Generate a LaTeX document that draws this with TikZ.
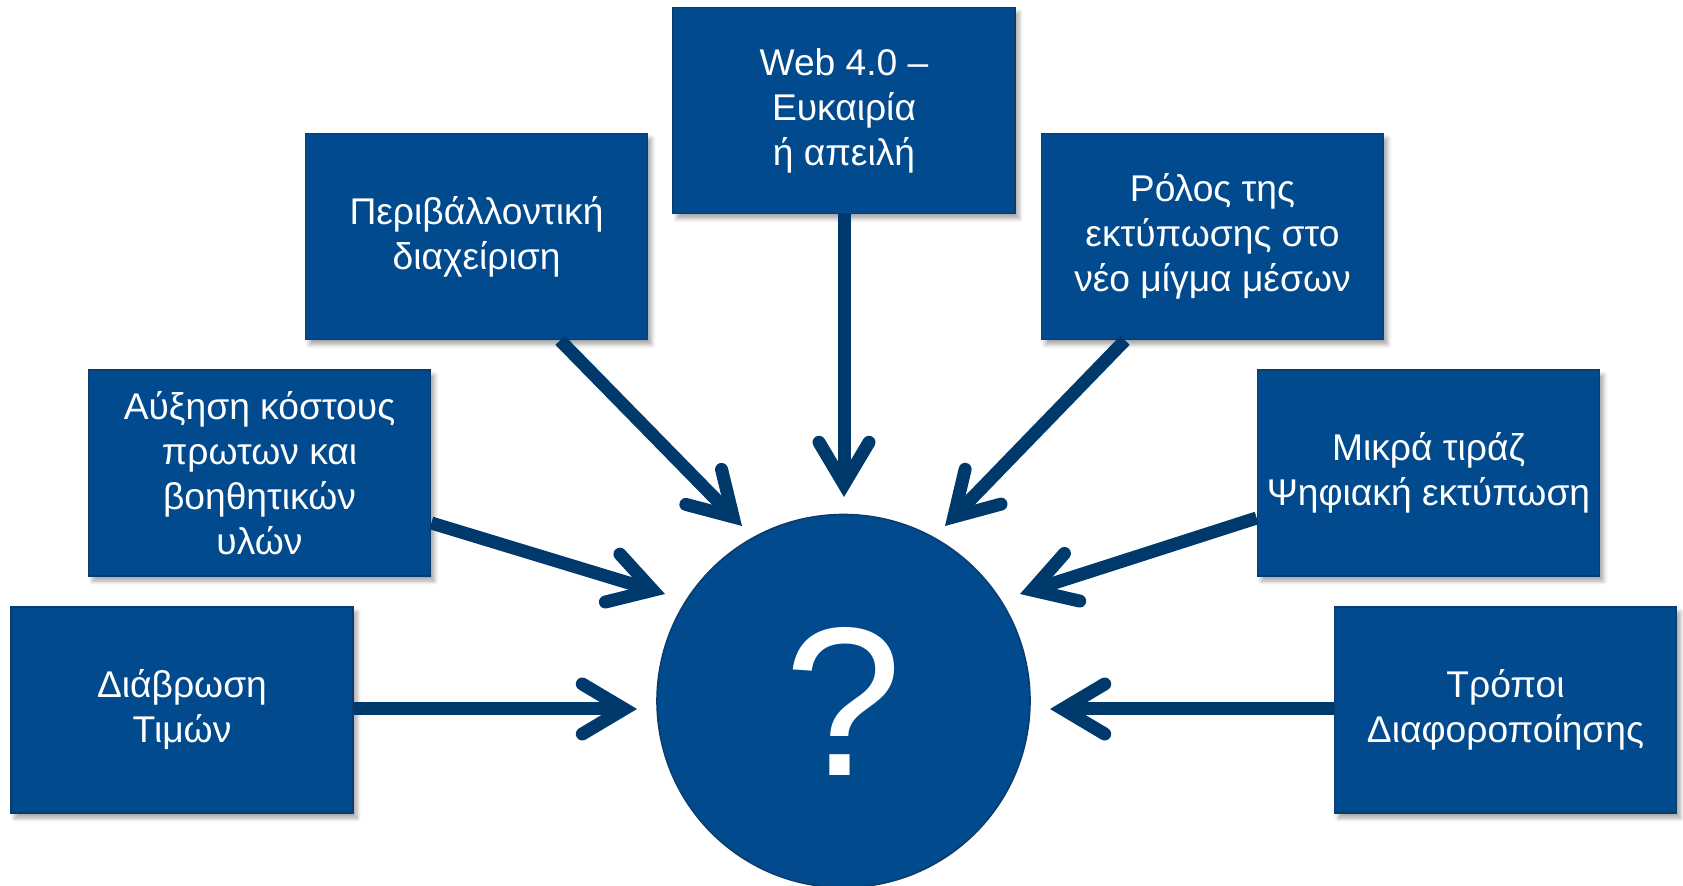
\documentclass[tikz,border=0pt]{standalone}
\usepackage{fontspec}
\setmainfont{Liberation Sans}
\usetikzlibrary{arrows.meta,positioning,calc,shadows.blur}
\definecolor{boxblue}{HTML}{004A8D}
\definecolor{edgeblue}{HTML}{0B3C6E}
\definecolor{arrowblue}{HTML}{003A6C}
\tikzset{
    >={Straight Barb[length=21pt,width=25pt,line cap=round,line join=miter]},
    topic/.style={rectangle,draw=edgeblue,fill=boxblue,line width=0.8pt,text=white,align=center,
        minimum width=171pt,minimum height=103pt,inner sep=0pt,font=\fontsize{18.6}{22.5}\selectfont,
        blur shadow={shadow xshift=2pt,shadow yshift=-2.5pt,shadow blur steps=6,shadow opacity=35}},
    hub/.style={circle,draw=edgeblue,fill=boxblue,line width=0.8pt,text=white,minimum size=186.5pt,
        inner sep=0pt,font=\fontsize{106}{110}\selectfont},
    link/.style={->,draw=arrowblue,line width=6.5pt}
}
\begin{document}
\begin{tikzpicture}[x=0.5pt,y=-0.5pt]
    \useasboundingbox (0,0) rectangle (1683,886);
    \node[hub] (quest) at (843.5,701) {?};
    \node[topic] (diav) at (182,710) {Διάβρωση\\Τιμών};
    \node[topic] (afx) at (259.5,473) {Αύξηση κόστους\\πρωτων και\\βοηθητικών\\υλών};
    \node[topic] (peri) at (476.5,236.5) {Περιβάλλοντική\\διαχείριση};
    \node[topic] (web) at (844,110.5) {Web 4.0 –\\Ευκαιρία\\ή απειλή};
    \node[topic] (rolos) at (1212.5,236.5) {Ρόλος της\\εκτύπωσης στο\\νέο μίγμα μέσων};
    \node[topic] (mikra) at (1428.5,473) {Μικρά τιράζ\\Ψηφιακή εκτύπωση};
    \node[topic] (tropoi) at (1505.5,710) {Τρόποι\\Διαφοροποίησης};
    \coordinate (tipDiav) at (637,709);
    \coordinate (tipAfx) at (665,594);
    \coordinate (tipPeri) at (742,526);
    \coordinate (tipWeb) at (844,497);
    \coordinate (tipRolos) at (945,526);
    \coordinate (tipMikra) at (1020,594);
    \coordinate (tipTropoi) at (1050,709);
    \draw[link] (diav.east |- tipDiav) -- (tipDiav);
    \draw[link] ([yshift=-25pt]afx.east) -- (tipAfx);
    \draw[link] ([xshift=41.75pt]peri.south) -- (tipPeri);
    \draw[link] (web.south) -- (tipWeb);
    \draw[link] ([xshift=-43.75pt]rolos.south) -- (tipRolos);
    \draw[link] ([yshift=-22.5pt]mikra.west) -- (tipMikra);
    \draw[link] (tropoi.west |- tipTropoi) -- (tipTropoi);
\end{tikzpicture}
\end{document}
